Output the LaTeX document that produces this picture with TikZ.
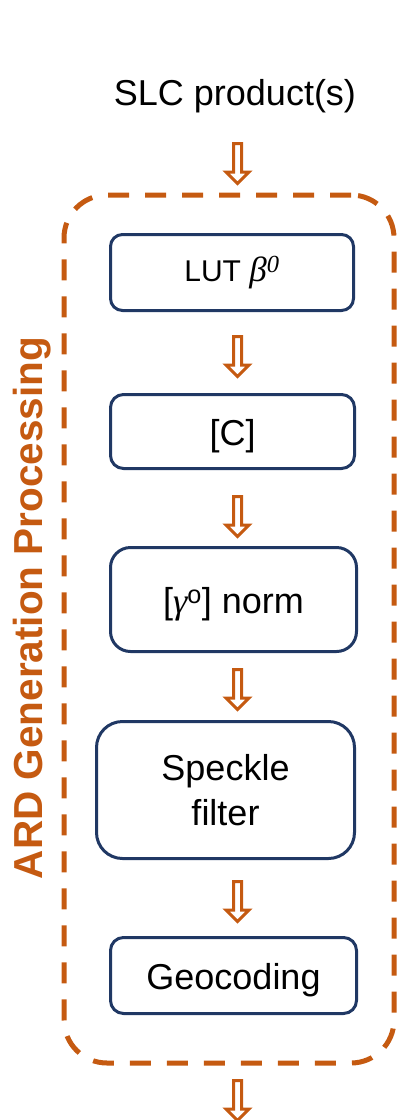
\documentclass[tikz,border=0pt]{standalone}
\usepackage{fontspec}
\setmainfont{Liberation Sans}
\newfontfamily\grk{Liberation Serif}
\definecolor{ardorange}{RGB}{197,90,17}
\definecolor{ardnavy}{RGB}{32,56,100}
\tikzset{
  stepbox/.style={draw=ardnavy, line width=3pt, fill=white, inner sep=0pt, align=center,
    font=\fontsize{36}{45}\selectfont},
  oneline/.style={text height=27pt, text depth=0pt},
  barrow/.style={draw=ardorange, line width=3pt, fill=white, line join=miter},
  groupbox/.style={draw=ardorange, line width=5pt, dash pattern=on 21pt off 16pt,
    rounded corners=43pt, inner sep=0pt},
}
\newcommand\blockarrow[3]{%
  \coordinate (#1) at (#2,-#3);
  \draw[barrow] (#1) ++(-4,-1.5) -- ++(0,-28.5) -- ++(-7.5,0) -- ++(11.5,-11.5)
    -- ++(11.5,11.5) -- ++(-7.5,0) -- ++(0,28.5) -- cycle;}
\begin{document}
\begin{tikzpicture}[x=1pt,y=1pt]
\useasboundingbox (0,0) rectangle (398,-1120);
\node[anchor=base, font=\fontsize{36}{43}\selectfont, inner sep=0pt] (slc) at (235,-105) {SLC product(s)};
\node[groupbox, minimum width=330, minimum height=868] (grp) at (229,-629) {};
\node[rotate=90, anchor=base, text=ardorange, font=\fontsize{40.5}{48}\selectfont\bfseries, inner sep=0pt]
  (title) at (42,-608) {ARD Generation Processing};
\node[stepbox, minimum width=243, minimum height=76, rounded corners=12pt,
  font=\fontsize{30}{34}\selectfont] (lut) at (232,-272.5)
  {LUT {\fontsize{35}{38}\selectfont\grk\itshape β\textsuperscript{0}}};
\node[stepbox, oneline, minimum width=244, minimum height=74, rounded corners=13pt] (c) at (232.5,-431.5) {[C]};
\node[stepbox, oneline, minimum width=246, minimum height=104, rounded corners=20pt] (gam) at (233.5,-599.5)
  {[{\grk\itshape γ}\textsuperscript{o}] norm};
\node[stepbox, minimum width=258, minimum height=137, rounded corners=26pt] (spk) at (225.5,-790)
  {Speckle\\filter};
\node[stepbox, oneline, minimum width=246, minimum height=76, rounded corners=13pt] (geo) at (233.5,-975.5) {Geocoding};
\blockarrow{a1}{237.5}{142}
\blockarrow{a2}{237.5}{335}
\blockarrow{a3}{237.5}{495}
\blockarrow{a4}{237.5}{668}
\blockarrow{a5}{237.5}{880}
\blockarrow{a6}{237.5}{1079}
\end{tikzpicture}
\end{document}
